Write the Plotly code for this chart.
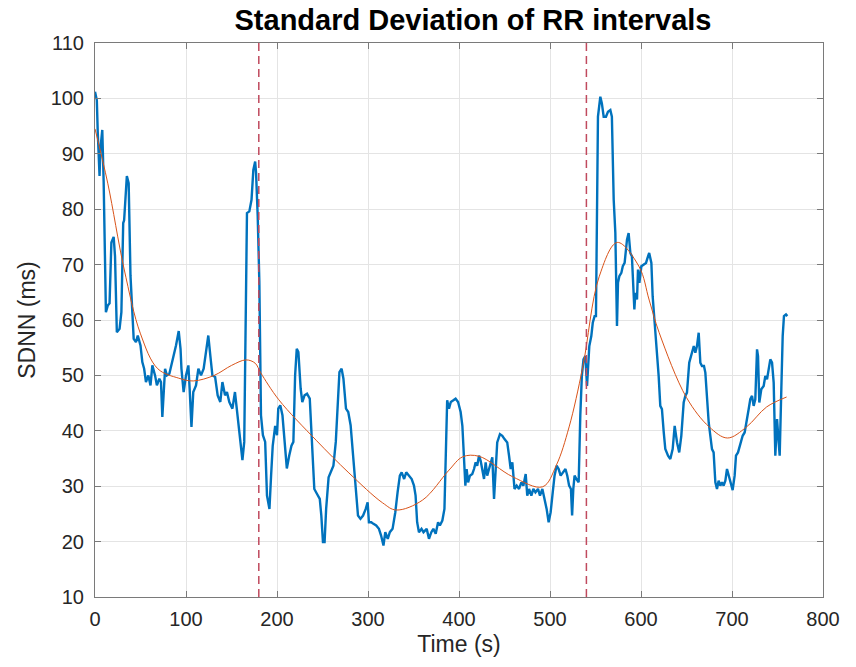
import plotly.graph_objects as go

# ---- data ----
sdnn_t = [0, 2, 3, 5, 6, 8, 9.5, 12, 14, 16, 18, 20.5, 22, 24, 27, 29, 31, 32, 35, 37, 39, 42.5, 45, 47, 50, 52, 54, 56, 58.6, 61, 63, 66, 68, 70.7, 72.5, 74, 77, 79, 81.7, 84, 86.4, 89, 92, 94, 95, 97.4, 100, 102.6, 104, 106, 108, 111, 113.6, 116.5, 119.4, 122, 124.5, 126.7, 129, 132, 134.8, 137.7, 140, 142.9, 145, 147.6, 151, 153.8, 156.8, 159, 162, 164, 166, 167, 169.6, 172, 174, 176, 177, 178.8, 180.6, 182.4, 184.5,
          187, 189, 191.7, 193.5, 195.3, 198, 200, 201.4, 203.6, 206, 208.7, 210.8, 213.4, 215.9, 218, 219.9, 221.7, 223.5, 226, 227.8, 230.3, 233, 236, 238.6, 241, 244, 247, 248.7, 250.5, 252.3, 254, 256.7, 259.2, 262, 264.6, 266.4, 268.6, 271, 273, 275.8, 278.3, 280.9, 283.8, 286.6, 289, 291.7, 294.6, 297.5, 299.6, 301, 303.6, 306, 309, 312, 314.4, 317, 319, 321.7, 324, 327, 330, 332.5, 335, 337, 339.7, 342, 345, 348, 350.5, 352.3, 354, 356, 358.8, 361,
          364.5, 367, 369.6, 371.8, 374.4, 377, 379, 381.7, 384, 385.7, 387, 389, 391, 393.8, 396.3, 399, 401.8, 403.7, 405.5, 407, 408.4, 410, 412, 414.6, 416.5, 418.3, 420, 422, 423.8, 425.6, 427.5, 429.3, 431, 433, 434.8, 436.6, 438.5, 440.3, 442, 445, 447.6, 450, 453, 455, 456.8, 458.6, 461, 463.4, 466, 468.5, 470.7, 473.3, 475, 477, 479.5, 481.7, 484, 486.8, 489, 491.6, 494, 496.3, 498.5, 500.7, 503, 505, 507.3, 509.5, 511.7, 514.7, 517, 519, 521, 523, 524.3, 525.6, 527, 529, 531.5, 533.3, 535, 536.8, 538.8, 540.7, 541.8, 543.2,
          545.4, 547, 549, 550.5, 551.6, 552.7, 555.3, 557, 559, 561.5, 563.7, 566.3, 568, 570, 571.8, 573.6, 574.7, 576.2, 578.4, 580, 582, 583.5, 584.6, 586.4, 588.3, 590, 591.2, 592.7, 593.8, 595.6, 596.7, 598.2, 600.4, 603, 605.5, 607.7, 609, 611.4, 612.8, 615, 617.6, 619.4, 621.2, 623, 625, 626.7, 629.7, 632.2, 634.8, 637, 639.6, 642, 644.3, 646.9, 648.7, 650.5, 653, 655.3, 658, 659.7, 661.5, 663.4, 665.2, 667, 669.2, 670.7, 672.5, 674.4, 676.2, 678, 679.8, 681.7, 683.5, 685.3, 687.2, 689, 690.8, 692.7, 694.5, 696.3, 698.2, 700.7, 702.9, 704.4, 706.6, 709.2, 711.7, 713.9, 716.5, 718.3, 720.1, 722, 723.8, 725.6, 727.5, 728.6, 730, 732.2, 734.8, 736.6, 738.5, 740.3, 742.1, 744, 745.8, 747.6, 749.5, 751.3, 752.4, 754.2, 755.7, 757.1, 759.3, 760.8]
sdnn_v = [101.2, 99.7, 94, 86, 91, 94.3, 85, 61.4, 62.6, 63, 74, 75, 71.5, 57.8, 58.4, 61.4, 77.5, 78, 86, 84.7, 68, 56.6, 56, 57.2, 55.4, 52.4, 51.2, 48.8, 50, 48.2, 51.8, 50, 48.2, 49.4, 48.8, 42.5, 51.2, 50, 50.3, 51.8, 53.6, 55.4, 58, 54.8, 51.2, 47, 50, 51.8, 47.6, 40.7, 47, 48.2, 51.2, 50, 51.2, 54.2, 57.2, 53.6, 50, 49.7, 46.4, 45.2, 48.8, 46.4, 47, 45.2, 44, 47, 42.8, 39.2, 34.7, 38, 66.8, 79.3, 79.6, 81.7, 87.1, 88.6, 86.5, 78.7, 66.8, 42.8, 39.2,
          38, 28.3, 25.9, 31.9, 37.3, 40.9, 39.2, 44, 44.6, 42.8, 38, 33.2, 35.5, 37.3, 38, 50, 54.8, 54.2, 47.6, 45.2, 46.4, 46.7, 45.8, 38, 29.5, 28.6, 27.7, 24.7, 19.9, 19.9, 25.9, 31.6, 32.5, 33.7, 38, 43.4, 50.6, 51.2, 49.4, 44, 43.4, 41, 34.9, 29.5, 24.7, 24.1, 24.7, 25.9, 27.1, 23.5, 23.5, 23.2, 22.9, 22.3, 21.1, 19.3, 21.7, 20.5, 21.7, 22.3, 25.3, 28.9, 31.9, 32.5, 31.3, 32.5, 31.9, 31.3, 30.1, 28.3, 23.5, 21.7, 22.3, 21.7,
          22.3, 20.5, 21.7, 22.3, 21.4, 23.5, 22.9, 23.8, 25.9, 34.9, 45.5, 44, 45.2, 45.5, 45.8, 45.2, 43.4, 40.9, 34.9, 30.1, 33.1, 30.7, 31.9, 32.2, 33.1, 34.3, 33.7, 35.5, 34.6, 33.1, 31.3, 34.3, 31.9, 33.1, 34.3, 35.2, 27.7, 34.3, 37.9, 39.4, 39.1, 38.5, 37.9, 35.5, 33.1, 34.3, 29.5, 30.1, 29.5, 30.7, 30.1, 32.2, 28.3, 29.5, 28.3, 29.5, 28.9, 29.5, 28.3, 29.5, 27.7, 25.9, 23.5, 25.3, 28.9, 31.9, 33.7, 33.1, 31.9, 32.5, 33.1, 31.9, 30.1, 29.5, 24.7, 29.5, 31.9, 31.3, 30.7, 42.7, 49.9, 52.9, 53.5, 48.1, 51.7, 55.3,
          57.1, 59.5, 60.7, 60.7, 78.7, 96.7, 100.3, 99.1, 96.7, 96.7, 97.6, 97.9, 96.7, 81.7, 75.7, 58.9, 66.7, 67.9, 68.5, 69.7, 70.3, 72.7, 74.5, 75.7, 72.1, 71.5, 66.7, 61.9, 64.9, 63.7, 69.1, 66.7, 69.7, 70, 70.3, 71.5, 72.1, 70.3, 64.3, 59.5, 54.7, 49.9, 44.5, 43.9, 39.7, 36.7, 35.5, 34.9, 36.7, 40.9, 37.9, 36.1, 39.1, 45.1, 46.3, 46.9, 52.3, 53.5, 55.3, 54.1, 55.3, 57.7, 52.3, 51.7, 51.7, 50.5, 45.1, 41.5, 39.1, 36.7, 36.1, 30.7, 29.5, 31, 30.1, 30.7, 30.1, 31, 33.1, 31.9, 30.7, 29.3, 31.9, 35.5, 36.1, 37.9, 39.1, 39.7, 42.7, 43.9, 45.7, 46.3, 44.5, 45.7, 54.7, 53.5, 45.1, 47.5, 48.1, 49.9, 49.3, 51.1, 52.9, 52.3, 48.7, 35.5, 42.1, 37.9, 35.5, 47.5, 57.1, 60.7, 61, 60.7]

trend_t = [0, 14, 32, 50, 69, 92, 108, 131, 150, 166, 176, 182, 202, 243, 279, 316, 331, 360, 389, 404, 422, 459, 492, 507, 521, 536, 554, 574, 598, 609, 620, 650, 675, 695, 716, 738, 760]
trend_v = [94.5, 84.7, 69.2, 57.5, 51.2, 49.5, 49.0, 50, 51.8, 52.8, 52.2, 50.5, 45.6, 38.3, 32.4, 27, 25.7, 27.5, 32.9, 35.3, 35.4, 31.7, 29.9, 33.8, 40.7, 51.5, 67.8, 74, 69.6, 63.6, 57.7, 46, 40.7, 38.7, 40.7, 44.3, 46.1]

event_times = [180, 540]
x_ticks = [0, 100, 200, 300, 400, 500, 600, 700, 800]
y_ticks = [10, 20, 30, 40, 50, 60, 70, 80, 90, 100, 110]

FONT = "Arial, Liberation Sans, Helvetica, sans-serif"
TXT = "#262626"

fig = go.Figure()
fig.add_trace(go.Scatter(x=sdnn_t, y=sdnn_v, mode="lines",
                         line=dict(color="#0072BD", width=2.4), showlegend=False))
fig.add_trace(go.Scatter(x=trend_t, y=trend_v, mode="lines",
                         line=dict(color="#D95319", width=1, shape="spline", smoothing=1.0),
                         showlegend=False))
for et in event_times:
    fig.add_trace(go.Scatter(x=[et, et], y=[10, 110], mode="lines",
                             line=dict(color="#C04A5E", width=1.5, dash="8px,5px"),
                             showlegend=False))

axis_common = dict(showline=True, linecolor="#7a7a7a", linewidth=1, mirror="allticks",
                   ticks="inside", ticklen=6, tickcolor="#7a7a7a",
                   showgrid=True, gridcolor="#e4e4e4", gridwidth=1, zeroline=False,
                   tickfont=dict(family=FONT, size=20, color=TXT))

fig.update_xaxes(range=[0, 800], tickvals=x_ticks, ticklabelstandoff=4,
                 title=dict(text="Time (s)", font=dict(family=FONT, size=23, color=TXT), standoff=6),
                 **axis_common)
fig.update_yaxes(range=[10, 110], tickvals=y_ticks, ticklabelstandoff=6,
                 title=dict(text="SDNN (ms)", font=dict(family=FONT, size=23, color=TXT), standoff=8),
                 **axis_common)

fig.update_layout(
    width=856, height=667,
    margin=dict(l=95, r=33, t=43, b=70),
    paper_bgcolor="white", plot_bgcolor="white",
    title=dict(text="<b>Standard Deviation of RR intervals</b>",
               font=dict(family=FONT, size=29, color="black"),
               x=0.5526, xanchor="center", y=0.970, yanchor="middle"),
)

fig.write_html("out.html")
